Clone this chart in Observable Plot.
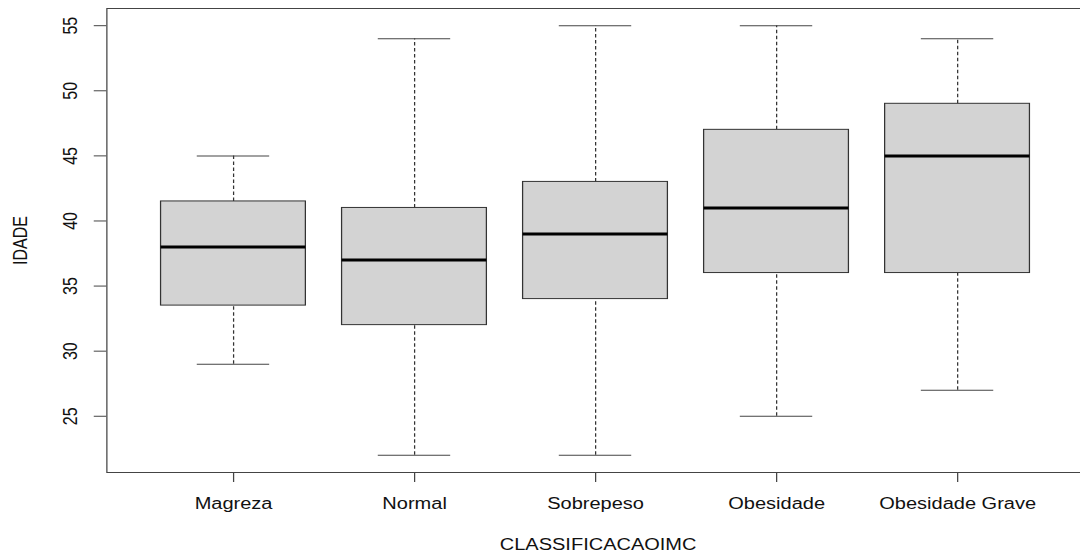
<!DOCTYPE html>
<html>
<head>
<meta charset="utf-8">
<script src="https://cdn.jsdelivr.net/npm/d3@7"></script>
<script src="https://cdn.jsdelivr.net/npm/@observablehq/plot@0.6"></script>
<style>
  html, body { margin: 0; padding: 0; background: white; overflow: hidden; width: 1080px; height: 552px; }
  #chart { transform: scaleX(1.25); transform-origin: 0 0; width: 867px; }
</style>
</head>
<body>
<div id="chart"></div>
<script>
// Data (IDADE by CLASSIFICACAOIMC)
const categories = ["Magreza", "Normal", "Sobrepeso", "Obesidade", "Obesidade Grave"];
const mins    = [29, 22, 22, 25, 27];
const q1s     = [33.5, 32, 34, 36, 36];
const medians = [38, 37, 39, 41, 45];
const q3s     = [41.5, 41, 43, 47, 49];
const maxs    = [45, 54, 55, 55, 54];
const yTicks  = [25, 30, 35, 40, 45, 50, 55];
const xLabel  = "CLASSIFICACAOIMC";
const yLabel  = "IDADE";

const boxes = categories.map((c, i) => ({
  cat: c, pos: i + 1, min: mins[i], q1: q1s[i], med: medians[i], q3: q3s[i], max: maxs[i]
}));

const font = "'Liberation Sans', Arial, Helvetica, sans-serif";
const axisColor = "#444";

const chart = Plot.plot({
  width: 867,
  height: 552,
  marginLeft: 85,
  marginRight: 0,
  marginTop: 8,
  marginBottom: 80,
  style: { fontFamily: font, fontSize: "16px", background: "white", color: "#111" },
  x: { type: "linear", domain: [0.3, 5.7], axis: null },
  y: { type: "linear", domain: [20.68, 56.32], axis: null },
  marks: [
    // whiskers (dashed)
    Plot.ruleX(boxes, { x: "pos", y1: "q3", y2: "max", stroke: "#333", strokeWidth: 1, strokeDasharray: "3.5,2.5" }),
    Plot.ruleX(boxes, { x: "pos", y1: "min", y2: "q1", stroke: "#333", strokeWidth: 1, strokeDasharray: "3.5,2.5" }),
    // whisker caps
    Plot.ruleY(boxes, { y: "max", x1: d => d.pos - 0.2, x2: d => d.pos + 0.2, stroke: "#444", strokeWidth: 1 }),
    Plot.ruleY(boxes, { y: "min", x1: d => d.pos - 0.2, x2: d => d.pos + 0.2, stroke: "#444", strokeWidth: 1 }),
    // boxes
    Plot.rect(boxes, { x1: d => d.pos - 0.4, x2: d => d.pos + 0.4, y1: "q1", y2: "q3", fill: "#d3d3d3", stroke: "#333", strokeWidth: 1 }),
    // medians
    Plot.ruleY(boxes, { y: "med", x1: d => d.pos - 0.4, x2: d => d.pos + 0.4, stroke: "#000", strokeWidth: 3 }),
    // frame
    Plot.frame({ stroke: axisColor, strokeWidth: 1 }),
    // axis ticks
    Plot.axisY(yTicks, { tickSize: 10, tickFormat: () => "", label: null, stroke: axisColor }),
    Plot.axisX(boxes.map(d => d.pos), { tickSize: 10, tickFormat: () => "", label: null, stroke: axisColor }),
    // y tick labels (rotated, as in R)
    Plot.text(yTicks, { y: d => d, text: d => String(d), frameAnchor: "left", dx: -29, rotate: -90,
      textAnchor: "middle", lineAnchor: "middle", fontSize: 16, fill: "#111" }),
    // x tick labels
    Plot.text(boxes, { x: "pos", text: "cat", frameAnchor: "bottom", dy: 31, textAnchor: "middle",
      lineAnchor: "middle", fontSize: 16, fill: "#111" }),
    // axis titles
    Plot.text([xLabel], { text: d => d, frameAnchor: "bottom", dx: 2, dy: 72, lineAnchor: "middle", fontSize: 16, fill: "#111" }),
    Plot.text([yLabel], { text: d => d, frameAnchor: "left", dx: -69, rotate: -90, textAnchor: "middle",
      lineAnchor: "middle", fontSize: 16, fill: "#111" })
  ]
});

document.getElementById("chart").appendChild(chart);
</script>
</body>
</html>
